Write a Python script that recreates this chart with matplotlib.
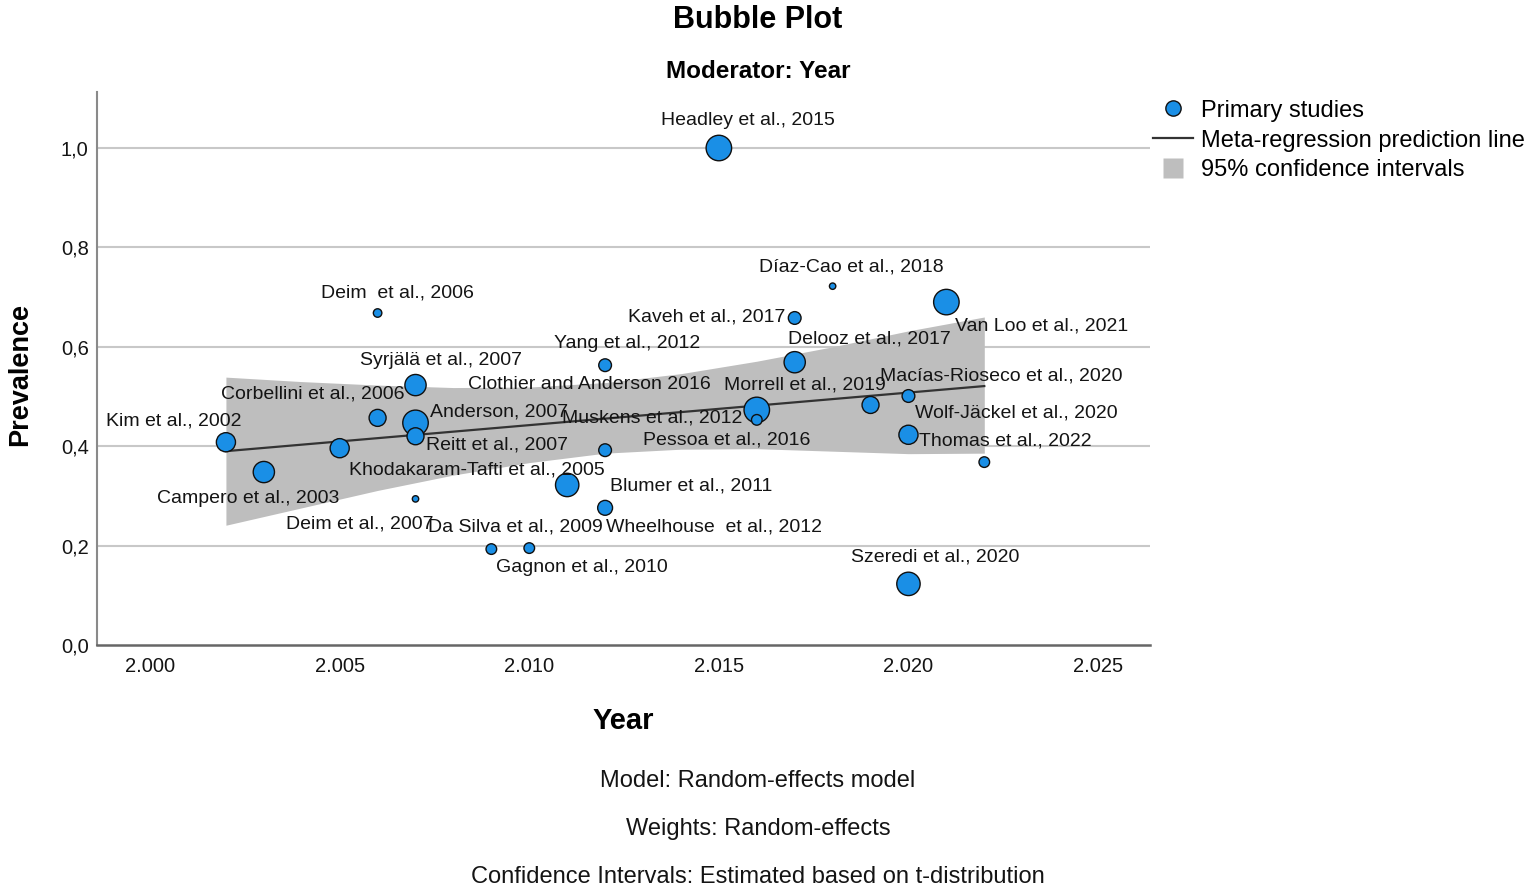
import matplotlib
matplotlib.use("Agg")
import matplotlib.pyplot as plt
from matplotlib.lines import Line2D

plt.rcParams['font.family'] = ['Liberation Sans', 'DejaVu Sans']

# ---------------- data ----------------
studies = [
    "Headley et al., 2015", "Díaz-Cao et al., 2018", "Deim  et al., 2006", "Kaveh et al., 2017",
    "Van Loo et al., 2021", "Yang et al., 2012", "Delooz et al., 2017", "Syrjälä et al., 2007",
    "Corbellini et al., 2006", "Clothier and Anderson 2016", "Anderson, 2007", "Kim et al., 2002",
    "Reitt et al., 2007", "Muskens et al., 2012", "Pessoa et al., 2016", "Macías-Rioseco et al., 2020",
    "Morrell et al., 2019", "Wolf-Jäckel et al., 2020", "Thomas et al., 2022",
    "Khodakaram-Tafti et al., 2005", "Campero et al., 2003", "Blumer et al., 2011",
    "Deim et al., 2007", "Da Silva et al., 2009", "Wheelhouse  et al., 2012",
    "Gagnon et al., 2010", "Szeredi et al., 2020",
]
years = [2015, 2018, 2006, 2017, 2021, 2012, 2017, 2007, 2006, 2016, 2007, 2002, 2007, 2012,
         2016, 2020, 2019, 2020, 2022, 2005, 2003, 2011, 2007, 2009, 2012, 2010, 2020]
prevalence = [1.000, 0.722, 0.668, 0.658, 0.690, 0.563, 0.569, 0.523, 0.457, 0.473, 0.447, 0.408,
              0.420, 0.392, 0.453, 0.501, 0.483, 0.423, 0.368, 0.396, 0.348, 0.322, 0.294, 0.193,
              0.276, 0.195, 0.123]
weights = [7.66, 0.48, 0.85, 1.91, 7.66, 1.91, 5.32, 5.32, 3.40, 7.66, 7.66, 4.31, 3.40, 1.91,
           1.33, 1.91, 3.40, 4.31, 1.33, 4.31, 5.32, 6.44, 0.48, 1.33, 2.61, 1.33, 6.44]

reg_years = [2002, 2022]
reg_pred = [0.390, 0.521]

ci_years = [2002, 2004, 2006, 2008, 2010, 2012, 2014, 2016, 2018, 2020, 2022]
ci_lower = [0.241, 0.276, 0.311, 0.342, 0.367, 0.386, 0.394, 0.395, 0.390, 0.385, 0.386]
ci_upper = [0.539, 0.530, 0.523, 0.518, 0.519, 0.528, 0.546, 0.571, 0.600, 0.632, 0.660]

x_ticks = [2000, 2005, 2010, 2015, 2020, 2025]
x_ticklabels = ["2.000", "2.005", "2.010", "2.015", "2.020", "2.025"]
y_ticks = [0.0, 0.2, 0.4, 0.6, 0.8, 1.0]
y_ticklabels = ["0,0", "0,2", "0,4", "0,6", "0,8", "1,0"]

footer_lines = ["Model: Random-effects model", "Weights: Random-effects",
                "Confidence Intervals: Estimated based on t-distribution"]

# ---------------- label placement (pixel offsets of label centre from point) ----------------
label_offsets = {
    "Headley et al., 2015": (29, -28),
    "Díaz-Cao et al., 2018": (19, -19),
    "Deim  et al., 2006": (20, -20),
    "Kaveh et al., 2017": (-88, -1),
    "Van Loo et al., 2021": (95, 24),
    "Yang et al., 2012": (22, -22),
    "Delooz et al., 2017": (75, -23),
    "Syrjälä et al., 2007": (25, -25),
    "Corbellini et al., 2006": (-65, -24),
    "Clothier and Anderson 2016": (-167, -25),
    "Anderson, 2007": (84, -11),
    "Kim et al., 2002": (-52, -21),
    "Reitt et al., 2007": (81, 9),
    "Muskens et al., 2012": (47, -32),
    "Pessoa et al., 2016": (-30, 20),
    "Macías-Rioseco et al., 2020": (93, -20),
    "Morrell et al., 2019": (-66, -20),
    "Wolf-Jäckel et al., 2020": (108, -22),
    "Thomas et al., 2022": (21, -21),
    "Khodakaram-Tafti et al., 2005": (137, 22),
    "Campero et al., 2003": (-16, 26),
    "Blumer et al., 2011": (124, 1),
    "Deim et al., 2007": (-56, 25),
    "Da Silva et al., 2009": (24, -22),
    "Wheelhouse  et al., 2012": (109, 19),
    "Gagnon et al., 2010": (53, 19),
    "Szeredi et al., 2020": (27, -27),
}

W, H = 1535, 893
fig = plt.figure(figsize=(W / 100, H / 100), dpi=100)
ax = fig.add_axes([97 / W, 1 - 645 / H, (1150 - 97) / W, (645 - 92) / H])

ax.set_xlim(1998.60, 2026.37)
ax.set_ylim(0, 1.1127)

for yv in y_ticks[1:]:
    ax.axhline(yv, color='#c8c8c8', lw=1.5, zorder=0)

ax.fill_between(ci_years, ci_lower, ci_upper, color='#bebebe', lw=0, zorder=1)
ax.plot(reg_years, reg_pred, color='#333333', lw=1.6, zorder=2)

sizes = [w * 44.0 for w in weights]
ax.scatter(years, prevalence, s=sizes, c='#1a8fe6', edgecolors='#101010', linewidths=1.0, zorder=3)

for name, xv, yv in zip(studies, years, prevalence):
    dx, dy = label_offsets[name]
    ax.annotate(name, (xv, yv), xytext=(dx * 0.72, -dy * 0.72), textcoords='offset points',
                ha='center', va='center', fontsize=14, color='#141414', zorder=4)

ax.set_xticks(x_ticks)
ax.set_xticklabels(x_ticklabels)
ax.set_yticks(y_ticks)
ax.set_yticklabels(y_ticklabels)
ax.tick_params(axis='both', length=0, labelsize=14.5, colors='#141414')
ax.tick_params(axis='x', pad=9)
ax.tick_params(axis='y', pad=6)

for s in ['top', 'right']:
    ax.spines[s].set_visible(False)
ax.spines['left'].set_color('#8a8a8a')
ax.spines['bottom'].set_color('#666666')
ax.spines['left'].set_linewidth(1.5)
ax.spines['bottom'].set_linewidth(1.8)

fig.text(758 / W, 1 - 20 / H, "Bubble Plot", ha='center', va='center', fontsize=22, fontweight='bold')
fig.text(758 / W, 1 - 72 / H, "Moderator: Year", ha='center', va='center', fontsize=17.5, fontweight='bold')
fig.text(623 / W, 1 - 721 / H, "Year", ha='center', va='center', fontsize=21, fontweight='bold')
fig.text(20 / W, 1 - 375 / H, "Prevalence", ha='center', va='center', fontsize=19.5,
         fontweight='bold', rotation=90)

for i, line in enumerate(footer_lines):
    fig.text(758 / W, 1 - (781 + 48 * i) / H, line, ha='center', va='center', fontsize=17, color='#141414')

handles = [
    Line2D([], [], marker='o', ls='none', markersize=11, markerfacecolor='#1a8fe6',
           markeredgecolor='#101010', markeredgewidth=1.0),
    Line2D([], [], color='#333333', lw=1.6),
    Line2D([], [], marker='s', ls='none', markersize=15, markerfacecolor='#bebebe',
           markeredgecolor='none'),
]
labels = ["Primary studies", "Meta-regression prediction line", "95% confidence intervals"]
fig.legend(handles, labels, loc='upper left', bbox_to_anchor=(1148 / W, 1 - 95 / H),
           frameon=False, fontsize=17, handlelength=1.7, handletextpad=0.35,
           labelspacing=0.33, borderpad=0.2, borderaxespad=0)

fig.savefig("out.png", dpi=100)
